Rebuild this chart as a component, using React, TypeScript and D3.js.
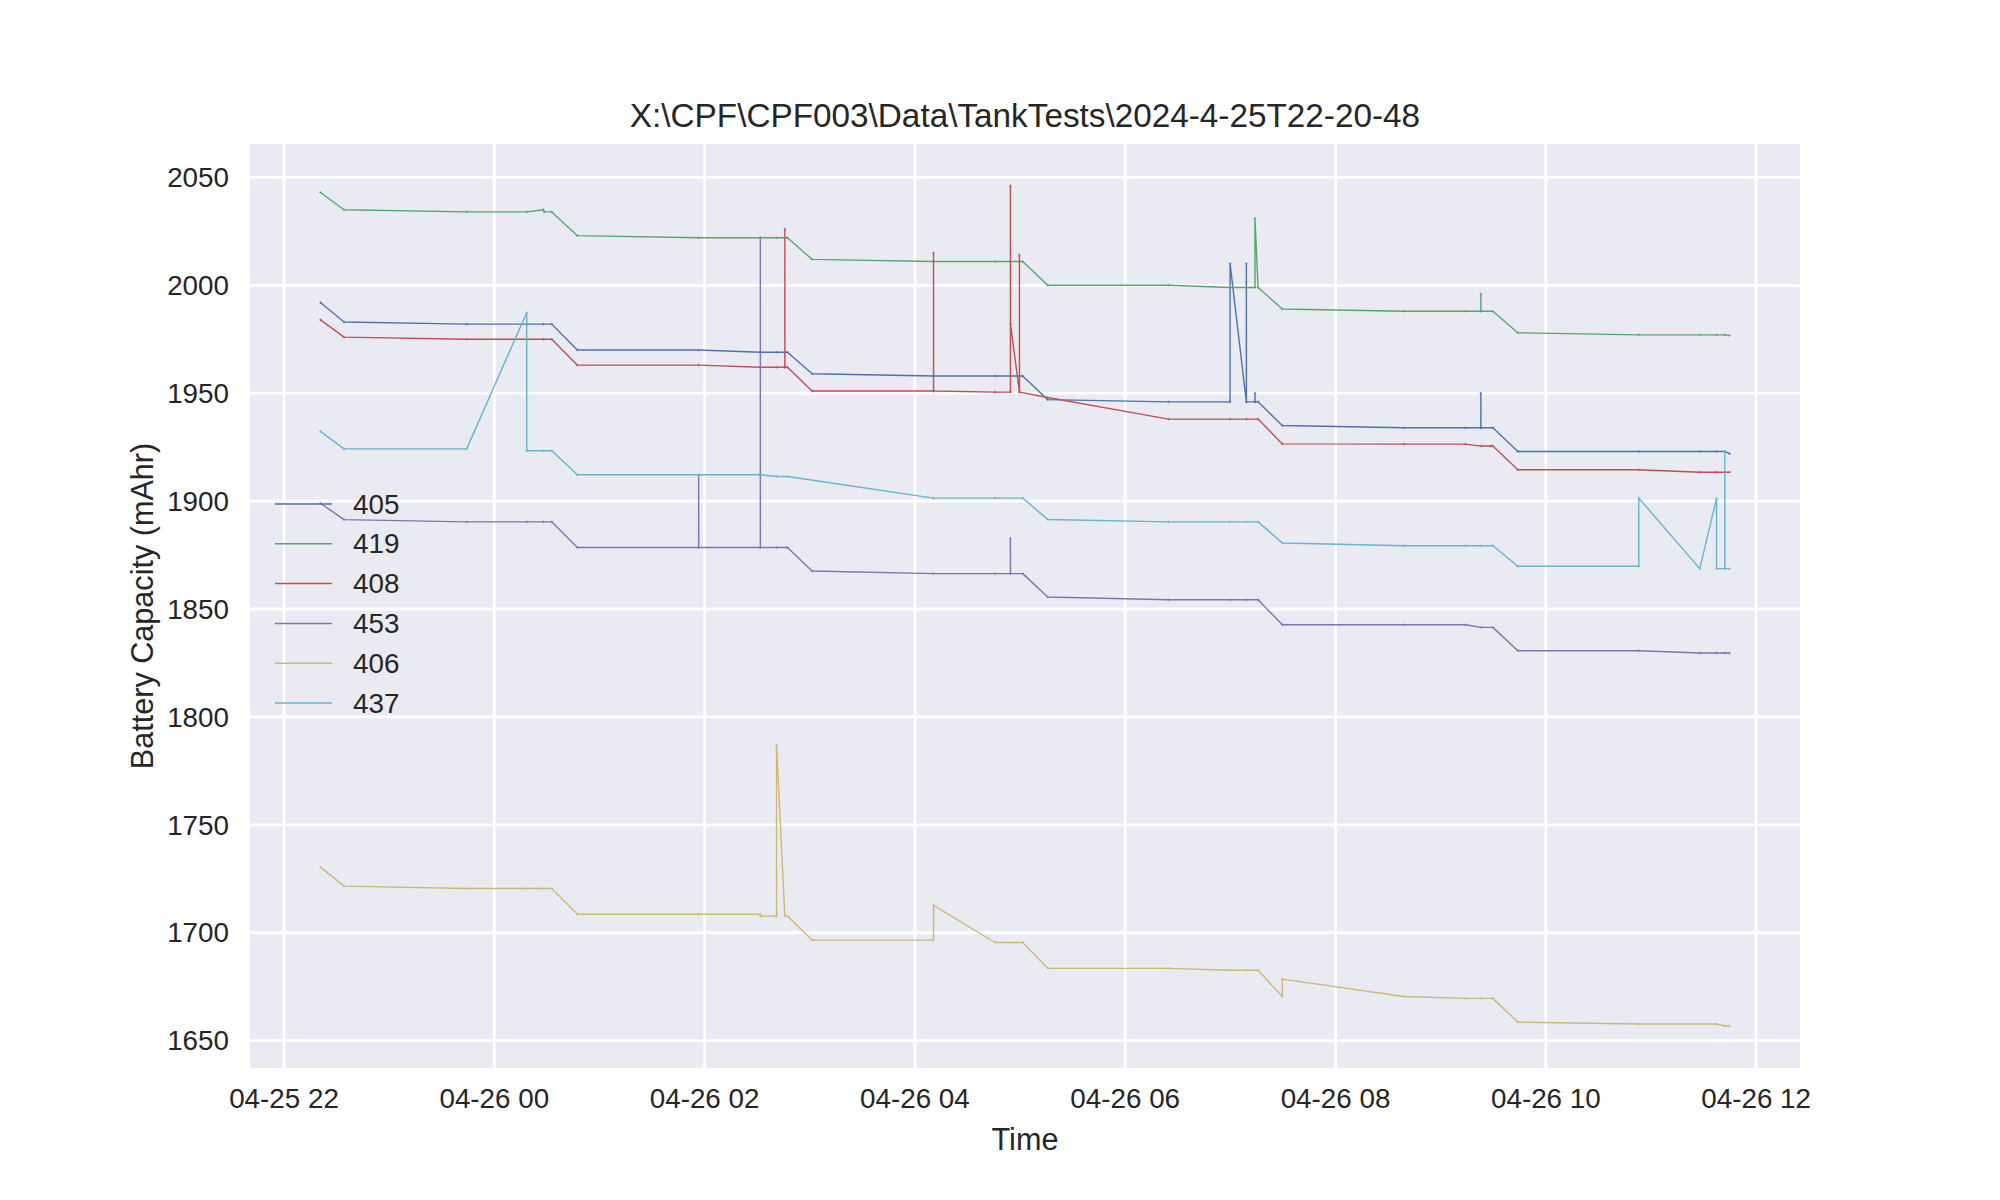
import React, { useEffect } from 'react';
import * as d3 from 'd3';

// sensor ids in legend order, seaborn "deep" palette
const sensorIds = ['405', '419', '408', '453', '406', '437'];
const colors = ['#4C72B0', '#55A868', '#C44E52', '#8172B2', '#CCB974', '#64B5CD'];

const yTicks = [1650, 1700, 1750, 1800, 1850, 1900, 1950, 2000, 2050];
const xTickLabels = ['04-25 22', '04-26 00', '04-26 02', '04-26 04', '04-26 06', '04-26 08', '04-26 10', '04-26 12'];

const s405: [string, number][] = [
  ['22:20:48', 1992], ['22:34:16', 1983], ['23:44:13', 1982], ['00:18:29', 1982], ['00:28:01', 1982],
  ['00:32:46', 1982], ['00:47:24', 1970], ['01:56:35', 1970], ['02:31:48', 1969], ['02:41:02', 1969],
  ['02:47:17', 1969], ['03:01:19', 1959], ['04:10:37', 1958], ['04:45:47', 1958], ['05:01:30', 1958],
  ['05:15:47', 1947], ['06:24:40', 1946], ['06:59:49', 1946], ['06:59:49', 2010], ['07:09:07', 1946],
  ['07:09:07', 2010], ['07:09:10', 1946], ['07:14:02', 1946], ['07:14:02', 1950], ['07:14:05', 1946],
  ['07:15:47', 1946], ['07:29:38', 1935], ['08:39:00', 1934], ['09:14:10', 1934], ['09:22:55', 1934],
  ['09:22:55', 1950], ['09:22:58', 1934], ['09:29:46', 1934], ['09:44:02', 1923], ['10:53:02', 1923],
  ['11:27:50', 1923], ['11:37:23', 1923], ['11:42:07', 1923], ['11:44:49', 1922],
];

const s419: [string, number][] = [
  ['22:20:48', 2043], ['22:34:16', 2035], ['23:44:13', 2034], ['00:18:29', 2034], ['00:28:01', 2035],
  ['00:28:30', 2034], ['00:32:46', 2034], ['00:47:24', 2023], ['01:56:35', 2022], ['02:31:48', 2022],
  ['02:41:02', 2022], ['02:47:17', 2022], ['03:01:19', 2012], ['04:10:37', 2011], ['04:45:47', 2011],
  ['05:01:30', 2011], ['05:15:47', 2000], ['06:24:40', 2000], ['06:59:49', 1999], ['07:14:02', 1999],
  ['07:14:02', 2031], ['07:15:47', 1999], ['07:29:38', 1989], ['08:39:00', 1988], ['09:14:10', 1988],
  ['09:22:55', 1988], ['09:22:55', 1996], ['09:22:58', 1988], ['09:29:46', 1988], ['09:44:02', 1978],
  ['10:53:02', 1977], ['11:27:50', 1977], ['11:37:23', 1977], ['11:42:07', 1977], ['11:44:49', 1976.7],
];

const s408: [string, number][] = [
  ['22:20:48', 1984], ['22:34:16', 1976], ['23:44:13', 1975], ['00:18:29', 1975], ['00:28:01', 1975],
  ['00:32:46', 1975], ['00:47:24', 1963], ['01:56:35', 1963], ['02:31:48', 1962], ['02:41:02', 1962],
  ['02:45:47', 1962], ['02:45:47', 2026], ['02:45:50', 1962], ['02:47:17', 1962], ['03:01:19', 1951],
  ['04:10:37', 1951], ['04:10:37', 2015], ['04:10:40', 1951], ['04:45:47', 1950.5], ['04:54:29', 1950.5],
  ['04:54:29', 2046], ['04:54:32', 1982], ['04:59:38', 1950.5], ['04:59:38', 2014], ['04:59:41', 1950.5],
  ['05:15:47', 1948], ['06:24:40', 1938], ['06:59:49', 1938], ['07:09:07', 1938], ['07:15:47', 1938],
  ['07:29:38', 1926.5], ['08:39:00', 1926.4], ['09:14:10', 1926.4], ['09:22:55', 1925.5], ['09:28:26', 1925.5],
  ['09:29:46', 1925.5], ['09:44:02', 1914.5], ['10:53:02', 1914.5], ['11:27:50', 1913.4], ['11:37:23', 1913.4],
  ['11:42:07', 1913.4], ['11:44:49', 1913.4],
];

const s453: [string, number][] = [
  ['22:20:48', 1899], ['22:34:16', 1891.4], ['23:44:13', 1890.4], ['00:18:29', 1890.4], ['00:28:01', 1890.4],
  ['00:32:46', 1890.4], ['00:47:24', 1878.5], ['01:56:35', 1878.5], ['01:56:35', 1912], ['01:56:38', 1878.5],
  ['02:31:48', 1878.5], ['02:31:48', 2022], ['02:31:51', 1878.5], ['02:41:02', 1878.5], ['02:47:17', 1878.5],
  ['03:01:19', 1867.6], ['04:10:37', 1866.4], ['04:45:47', 1866.4], ['04:54:29', 1866.4], ['04:54:29', 1882.7],
  ['04:54:32', 1866.4], ['05:01:30', 1866.4], ['05:15:47', 1855.6], ['06:24:40', 1854.3], ['06:59:49', 1854.3],
  ['07:09:07', 1854.3], ['07:15:47', 1854.3], ['07:29:38', 1842.7], ['08:39:00', 1842.7], ['09:14:10', 1842.7],
  ['09:22:55', 1841.5], ['09:29:46', 1841.5], ['09:44:02', 1830.7], ['10:53:02', 1830.7], ['11:27:50', 1829.6],
  ['11:37:23', 1829.6], ['11:42:07', 1829.6], ['11:44:49', 1829.6],
];

const s406: [string, number][] = [
  ['22:20:48', 1730.4], ['22:34:16', 1721.6], ['23:44:13', 1720.5], ['00:18:29', 1720.5], ['00:28:01', 1720.5],
  ['00:32:46', 1720.5], ['00:47:24', 1708.6], ['01:56:35', 1708.6], ['02:31:48', 1708.6], ['02:31:51', 1707.7],
  ['02:41:02', 1707.7], ['02:41:02', 1787], ['02:45:47', 1707.7], ['02:47:17', 1707.7], ['03:01:19', 1696.6],
  ['04:10:37', 1696.6], ['04:10:37', 1712.7], ['04:45:47', 1695.5], ['04:54:29', 1695.5], ['05:01:30', 1695.5],
  ['05:15:47', 1683.5], ['06:24:40', 1683.5], ['06:59:49', 1682.6], ['07:09:07', 1682.6], ['07:15:47', 1682.6],
  ['07:29:38', 1670.5], ['07:29:38', 1678.5], ['08:39:00', 1670.5], ['09:14:10', 1669.6], ['09:22:55', 1669.6],
  ['09:29:46', 1669.6], ['09:44:02', 1658.6], ['10:53:02', 1657.7], ['11:27:50', 1657.7], ['11:37:23', 1657.7],
  ['11:42:07', 1656.8], ['11:44:49', 1656.8],
];

const s437: [string, number][] = [
  ['22:20:48', 1932.3], ['22:34:16', 1924.2], ['23:44:13', 1924.2], ['00:18:29', 1987.3], ['00:18:32', 1923.3],
  ['00:28:01', 1923.3], ['00:32:46', 1923.3], ['00:47:24', 1912.2], ['01:56:35', 1912.2], ['02:31:48', 1912.2],
  ['02:41:02', 1911.4], ['02:47:17', 1911.4], ['04:10:37', 1901.4], ['04:45:47', 1901.4], ['05:01:30', 1901.4],
  ['05:15:47', 1891.5], ['06:24:40', 1890.4], ['06:59:49', 1890.4], ['07:09:07', 1890.4], ['07:15:47', 1890.4],
  ['07:29:38', 1880.6], ['08:39:00', 1879.3], ['09:14:10', 1879.3], ['09:22:55', 1879.3], ['09:29:46', 1879.3],
  ['09:44:02', 1869.8], ['10:53:02', 1869.8], ['10:53:02', 1901.4], ['11:27:50', 1868.7], ['11:37:23', 1901.2],
  ['11:37:23', 1868.7], ['11:42:07', 1868.7], ['11:42:07', 1923], ['11:42:10', 1868.7], ['11:44:49', 1868.7],
];

const seriesData = [s405, s419, s408, s453, s406, s437];

// times after noon belong to the 25th, the rest to the 26th
const parseTime = (s: string) => {
  const [h, m, sec] = s.split(':').map(Number);
  return new Date(2024, 3, h >= 12 ? 25 : 26, h, m, sec);
};

const W = 2000;
const H = 1200;
const margin = { left: 250, right: 200, top: 144, bottom: 132 };
const FONT = '"Liberation Sans", Arial, sans-serif';
const TEXT = '#262626';

export default function App() {
  useEffect(() => {
    document.body.style.margin = '0';
  }, []);

  const series = seriesData.map(s => s.map(([t, v]) => ({ date: parseTime(t), value: v })));
  const all = series.flat();

  const [x0, x1] = d3.extent(all, d => d.date.getTime()) as [number, number];
  const [y0, y1] = d3.extent(all, d => d.value) as [number, number];
  const xPad = (x1 - x0) * 0.05;
  const yPad = (y1 - y0) * 0.05;

  const innerW = W - margin.left - margin.right;
  const innerH = H - margin.top - margin.bottom;

  const xScale = d3.scaleTime()
    .domain([new Date(x0 - xPad), new Date(x1 + xPad)])
    .range([0, innerW]);
  const yScale = d3.scaleLinear()
    .domain([y0 - yPad, y1 + yPad])
    .range([innerH, 0]);

  const xTicks = xTickLabels.map((_, i) => new Date(2024, 3, 25, 22 + i * 2));

  const line = d3.line<{ date: Date; value: number }>()
    .x(d => xScale(d.date))
    .y(d => yScale(d.value));

  return (
    <svg width={W} height={H} style={{ display: 'block', background: '#fff' }} fontFamily={FONT}>
      <g transform={`translate(${margin.left},${margin.top})`}>
        <rect width={innerW} height={innerH} fill="#EAEAF2" />

        {/* grid */}
        {yTicks.map(t => (
          <line key={'gy' + t} x1={0} x2={innerW} y1={yScale(t)} y2={yScale(t)} stroke="#fff" strokeWidth={2.8} />
        ))}
        {xTicks.map((t, i) => (
          <line key={'gx' + i} x1={xScale(t)} x2={xScale(t)} y1={0} y2={innerH} stroke="#fff" strokeWidth={2.8} />
        ))}

        {/* series */}
        {series.map((s, i) => (
          <g key={sensorIds[i]}>
            <path d={line(s) || ''} fill="none" stroke={colors[i]} strokeWidth={1.4} strokeLinejoin="round" />
            {s.map((d, j) => {
              const cx = xScale(d.date);
              const cy = yScale(d.value);
              return (
                <path key={j} d={`M${cx - 1.4},${cy}H${cx + 1.4}M${cx},${cy - 1.4}V${cy + 1.4}`}
                  stroke={colors[i]} strokeWidth={0.7} />
              );
            })}
          </g>
        ))}

        {/* legend */}
        {sensorIds.map((id, i) => {
          const ly = 360 + i * 39.8;
          return (
            <g key={'lg' + id}>
              <line x1={25} x2={82} y1={ly} y2={ly} stroke={colors[i]} strokeWidth={1.5} />
              <text x={103} y={ly + 9.5} fontSize={27.8} fill={TEXT}>{id}</text>
            </g>
          );
        })}

        {/* y tick labels */}
        {yTicks.map(t => (
          <text key={'yt' + t} x={-21} y={yScale(t)} dy="0.35em" textAnchor="end" fontSize={27.8} fill={TEXT}>
            {t}
          </text>
        ))}
        {/* x tick labels */}
        {xTicks.map((t, i) => (
          <text key={'xt' + i} x={xScale(t)} y={innerH + 40} textAnchor="middle" fontSize={27.8} fill={TEXT}>
            {xTickLabels[i]}
          </text>
        ))}

        <text x={innerW / 2} y={innerH + 82} textAnchor="middle" fontSize={30.6} fill={TEXT}>Time</text>
        <text transform={`translate(${-97},${innerH / 2}) rotate(-90)`} textAnchor="middle" fontSize={30.6} fill={TEXT}>
          Battery Capacity (mAhr)
        </text>
        <text x={innerW / 2} y={-17} textAnchor="middle" fontSize={33.3} fill={TEXT}>
          {'X:\\CPF\\CPF003\\Data\\TankTests\\2024-4-25T22-20-48'}
        </text>
      </g>
    </svg>
  );
}
